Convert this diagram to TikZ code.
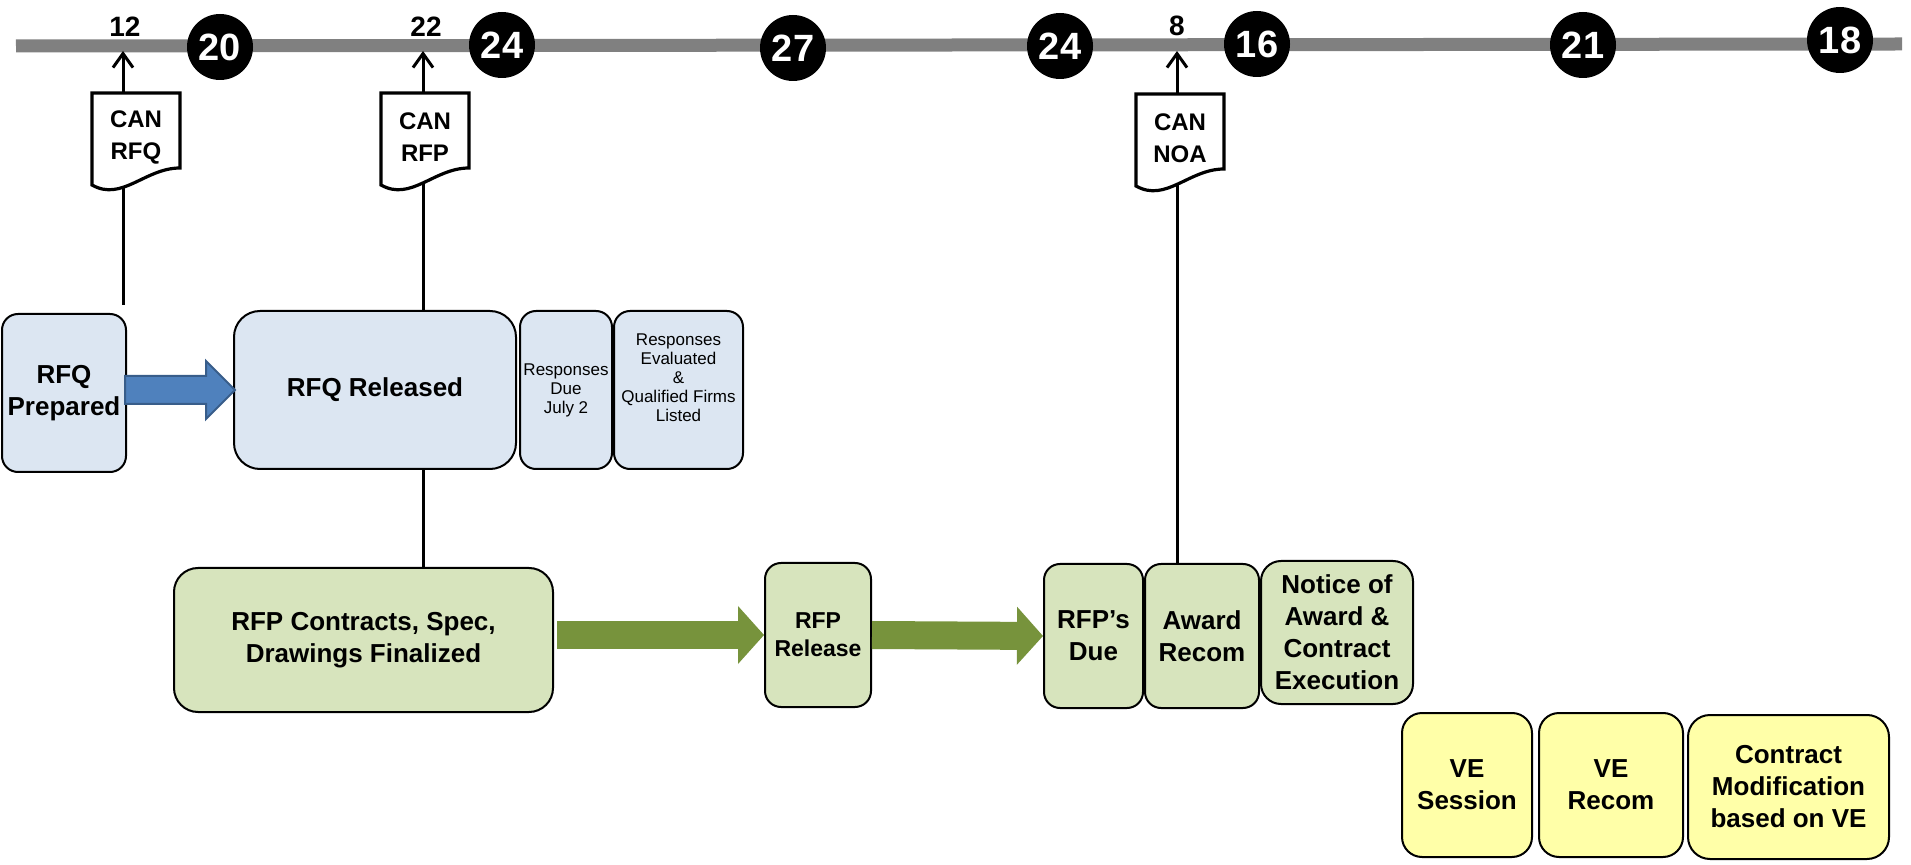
\documentclass[tikz,border=0pt]{standalone}
\usepackage{fontspec}
\setmainfont{Liberation Sans}
\usetikzlibrary{arrows.meta,calc}

\definecolor{boxblue}{RGB}{220,230,242}
\definecolor{boxgreen}{RGB}{215,228,189}
\definecolor{boxyellow}{RGB}{255,255,168}
\definecolor{arrowblue}{RGB}{79,129,189}
\definecolor{arrowblueline}{RGB}{56,93,138}
\definecolor{arrowgreen}{RGB}{119,147,60}
\definecolor{bargray}{RGB}{128,128,128}

% outline of a CAN document round its text node
\newcommand{\docoutline}[1]{%
  \draw[docline] ($(#1)+(-44,-44)$) -- ($(#1)+(44,-44)$) -- ($(#1)+(44,31)$)
    .. controls ($(#1)+(9,31)$) and ($(#1)+(-14,65)$) .. ($(#1)+(-44,48)$) -- cycle;}

\begin{document}
\begin{tikzpicture}[x=0.5pt,y=-0.5pt,
    stage/.style={draw, line width=1pt, rounded corners=8pt, align=center,
      inner sep=0pt, font=\bfseries\fontsize{13}{16}\selectfont},
    bluebox/.style={stage, fill=boxblue},
    greenbox/.style={stage, fill=boxgreen},
    yellowbox/.style={stage, fill=boxyellow},
    boxdim/.style 2 args={minimum width=#1, minimum height=#2},
    smalltext/.style={font=\fontsize{8.5}{9.5}\selectfont},
    daydot/.style={circle, fill=black, minimum size=33pt, inner sep=0pt,
      text=white, font=\bfseries\fontsize{19}{19}\selectfont},
    ticklabel/.style={font=\bfseries\fontsize{14}{14}\selectfont, inner sep=0pt},
    doctext/.style={align=center, inner sep=0pt,
      font=\bfseries\fontsize{12}{16}\selectfont},
    docline/.style={line width=1.6pt, line join=miter},
    tickarr/.style={line width=1.5pt, -{Straight Barb[length=7pt,width=10pt]}},
    vline/.style={line width=1.5pt},
    bar/.style={draw=bargray, line width=6.5pt},
    bluearr/.style={fill=arrowblue, draw=arrowblueline, line width=1pt},
    greenarr/.style={draw=arrowgreen, line width=14pt,
      -{Triangle[length=13pt,width=29pt,line width=0pt]}}]

    \useasboundingbox (0,0) rectangle (1911,865);

    % timeline
    \draw[bar] (16,46) -- (1902,44);
    \foreach \px/\py/\d [count=\i] in {220/47/20, 502/45/24, 793/48/27,
        1060/46/24, 1257/44/16, 1583/45/21, 1840/40/18} {
            \node[daydot] (day\i) at (\px,\py) {\d};
        }

    \coordinate (t12) at (123,51);
    \coordinate (t22) at (423,51);
    \coordinate (t8) at (1177,51);
    \node[ticklabel] (n12) at (125,27) {12};
    \node[ticklabel] (n22) at (426,27) {22};
    \node[ticklabel] (n8) at (1177,26) {8};

    % CAN documents
    \node[doctext] (rfqdoc) at (136,137) {CAN\\RFQ};
    \node[doctext] (rfpdoc) at (425,137) {CAN\\RFP};
    \node[doctext] (noadoc) at (1180,138) {CAN\\NOA};
    \docoutline{rfqdoc}
    \docoutline{rfpdoc}
    \docoutline{noadoc}

    % RFQ stage
    \node[bluebox, boxdim={62pt}{79pt}] (prep) at (64,393) {RFQ\\Prepared};
    \node[bluebox, rounded corners=13pt, boxdim={141pt}{79pt}] (rel) at (375,390) {RFQ Released};
    \node[bluebox, smalltext, boxdim={46pt}{79pt}] (due) at (566,390) {Responses\\Due\\July 2};
    \node[bluebox, smalltext, boxdim={64.5pt}{79pt}] (eval) at (678.5,390)
        {Responses\\Evaluated\\\&\\Qualified Firms\\Listed\\[3pt]};

    % RFP stage
    \node[greenbox, rounded corners=12pt, boxdim={189.5pt}{72pt}] (rfpc) at (363.5,640)
        {RFP Contracts, Spec,\\Drawings Finalized};
    \node[greenbox, font=\bfseries\fontsize{11.5}{14}\selectfont, boxdim={53pt}{72pt}] (rel2) at (818,635)
        {RFP\\Release};
    \node[greenbox, boxdim={49.5pt}{72pt}] (rdue) at (1093.5,636) {RFP’s\\Due};
    \node[greenbox, boxdim={57pt}{72pt}] (awrd) at (1202,636) {Award\\Recom};
    \node[greenbox, rounded corners=10pt, boxdim={76pt}{71.5pt}] (notice) at (1337,632.5)
        {Notice of\\Award \&\\Contract\\Execution};

    % VE stage
    \node[yellowbox, rounded corners=10pt, boxdim={65pt}{72pt}] (ves) at (1467,785) {VE\\Session};
    \node[yellowbox, rounded corners=10pt, boxdim={72pt}{72pt}] (ver) at (1611,785) {VE\\Recom};
    \node[yellowbox, rounded corners=11pt, boxdim={100.5pt}{72pt}] (mod) at (1788.5,787)
        {Contract\\Modification\\based on VE};

    % ticks up to the timeline
    \draw[tickarr] ($(rfqdoc.center -| t12)+(0,-44)$) -- (t12);
    \draw[tickarr] ($(rfpdoc.center -| t22)+(0,-44)$) -- (t22);
    \draw[tickarr] ($(noadoc.center -| t8)+(0,-43)$) -- (t8);

    % lines down from the documents
    \coordinate (rfqend) at (123,305);
    \draw[vline] ($(rfqdoc.center -| t12)+(0,51)$) -- (rfqend);
    \draw[vline] ($(rfpdoc.center -| t22)+(0,46)$) -- (rel.north -| t22);
    \draw[vline] (rel.south -| t22) -- (rfpc.north -| t22);
    \draw[vline] ($(noadoc.center -| t8)+(0,47)$) -- (awrd.north -| t8);

    % block arrows
    \draw[bluearr] ($(prep.east |- rel.west)+(-2,-14)$) -- ($(rel.west)+(-27,-14)$)
        -- ($(rel.west)+(-27,-29)$) -- ($(rel.west)+(2,0)$) -- ($(rel.west)+(-27,29)$)
        -- ($(rel.west)+(-27,14)$) -- ($(prep.east |- rel.west)+(-2,14)$) -- cycle;
    \draw[greenarr] ($(rfpc.east |- rel2.west)+(3,0)$) -- (rel2.west);
    \draw[greenarr] (rel2.east) -- (rdue.west);
\end{tikzpicture}
\end{document}
